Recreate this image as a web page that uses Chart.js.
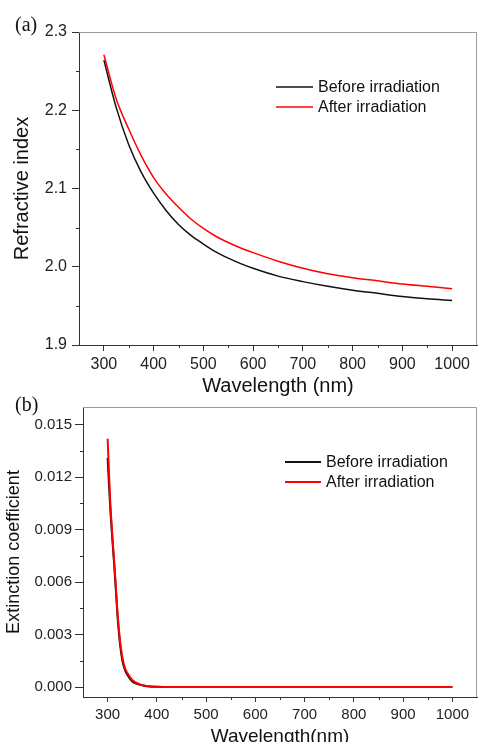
<!DOCTYPE html>
<html>
<head>
<meta charset="utf-8">
<script src="https://cdn.jsdelivr.net/npm/chart.js@4.4.1/dist/chart.umd.min.js"></script>
<style>
html,body{margin:0;padding:0;background:#fff;overflow:hidden;width:478px;height:742px;}
.panel{position:absolute;left:0;}
#chartA{top:0;}
#chartB{top:395px;}
</style>
</head>
<body>
<canvas class="panel" id="chartA" width="478" height="400"></canvas>
<canvas class="panel" id="chartB" width="478" height="360"></canvas>
<script>
// refractive index n vs wavelength
const wlA=[300,325,350,375,400,425,450,475,500,525,550,575,600,650,700,750,800,850,900,950,1000];
const nBefore=[2.264,2.203,2.156,2.121,2.094,2.072,2.054,2.040,2.029,2.019,2.011,2.004,1.998,1.988,1.981,1.975,1.970,1.966,1.962,1.959,1.957];
const nAfter=[2.271,2.214,2.176,2.142,2.114,2.093,2.076,2.061,2.049,2.039,2.031,2.024,2.018,2.007,1.998,1.991,1.986,1.982,1.978,1.975,1.972];

// extinction coefficient k vs wavelength
const wlB=[300,305,310,315,320,325,330,335,340,350,360,370,380,390,400,420,450,500,600,700,800,900,1000];
const kBefore=[0.0131,0.0104,0.0083,0.0063,0.0041,0.0025,0.0015,0.0010,0.0007,0.00032,0.00018,0.0001,0.00005,0.00002,0.00001,0,0,0,0,0,0,0,0];
const kAfter=[0.0142,0.0108,0.0085,0.0065,0.0043,0.0027,0.0017,0.0011,0.0008,0.0004,0.00022,0.00011,0.00006,0.00003,0.00001,0,0,0,0,0,0,0,0];

const xTicks=[300,400,500,600,700,800,900,1000];
const yTicksA=[1.9,2.0,2.1,2.2,2.3];
const yTicksB=[0,0.003,0.006,0.009,0.012,0.015];
const seriesNames=["Before irradiation","After irradiation"];

const fam="'Liberation Sans', Arial, sans-serif";
const axisColor="#333";

const pts=(xs,ys)=>xs.map((x,i)=>({x:x,y:ys[i]}));
const mids=t=>t.slice(1).map((v,i)=>(v+t[i])/2);

// frame, minor ticks, legend and panel tag
const decor={
id:"decor",
afterDraw(chart,args,o){
const ctx=chart.ctx,a=chart.chartArea;
const xs=chart.scales.x,ys=chart.scales.y;
ctx.save();
ctx.strokeStyle="#9a9a9a";
ctx.lineWidth=1;
ctx.beginPath();
ctx.moveTo(a.left,a.top+0.5);
ctx.lineTo(a.right-0.5,a.top+0.5);
ctx.lineTo(a.right-0.5,a.bottom);
ctx.stroke();

ctx.strokeStyle=axisColor;
ctx.beginPath();
mids(o.xMajor).forEach(v=>{
const px=Math.round(xs.getPixelForValue(v))+0.5;
ctx.moveTo(px,a.bottom);
ctx.lineTo(px,a.bottom+o.minorLen);
});
mids(o.yMajor).forEach(v=>{
const py=Math.round(ys.getPixelForValue(v))+0.5;
ctx.moveTo(a.left,py);
ctx.lineTo(a.left-o.minorLen,py);
});
ctx.stroke();

const lg=o.legend;
ctx.font=lg.font;
ctx.textBaseline="middle";
chart.data.datasets.forEach((ds,i)=>{
const y=lg.y+i*lg.gap;
ctx.strokeStyle=ds.borderColor;
ctx.lineWidth=lg.lineWidth;
ctx.beginPath();
ctx.moveTo(lg.x,y);
ctx.lineTo(lg.x+lg.len,y);
ctx.stroke();
ctx.fillStyle="#111";
ctx.fillText(ds.label,lg.x+lg.len+lg.pad,y+1);
});

ctx.font="20px 'Liberation Serif', 'Times New Roman', serif";
ctx.fillStyle="#111";
ctx.fillText(o.tag,o.tagX,o.tagY);
ctx.restore();
}
};

function makeChart(id,c){
return new Chart(document.getElementById(id),{
type:"line",
data:{datasets:[
{label:seriesNames[0],data:pts(c.wl,c.before),borderColor:"#111111",borderWidth:c.bw,order:1},
{label:seriesNames[1],data:pts(c.wl,c.after),borderColor:"#ff0000",borderWidth:c.bw,order:0}
]},
options:{
responsive:false,
animation:false,
layout:{padding:{top:c.top,right:1,left:0,bottom:0}},
elements:{point:{radius:0},line:{cubicInterpolationMode:"monotone",fill:false}},
plugins:{
legend:{display:false},
tooltip:{enabled:false},
decor:{xMajor:xTicks,yMajor:c.yTicks,minorLen:3,legend:c.legend,tag:c.tag,tagX:c.tagX,tagY:c.tagY}
},
scales:{
x:{
type:"linear",min:250,max:1050,
afterBuildTicks:s=>{s.ticks=xTicks.map(v=>({value:v}));},
afterFit:s=>{s.height=c.xh;},
grid:{drawOnChartArea:false,tickLength:c.xTickLen,tickColor:axisColor},
border:{color:axisColor,width:1},
ticks:{color:"#222",font:{family:fam,size:c.tickSize},padding:c.xPad,maxRotation:0,autoSkip:false,callback:v=>String(v)},
title:{display:true,text:c.xTitle,color:"#111",font:{family:fam,size:c.xTitleSize},padding:{top:0,bottom:c.xTitlePad}}
},
y:{
type:"linear",min:c.yMin,max:c.yMax,
afterBuildTicks:s=>{s.ticks=c.yTicks.map(v=>({value:v}));},
afterFit:s=>{s.width=c.yw;},
grid:{drawOnChartArea:false,tickLength:c.yTickLen,tickColor:axisColor},
border:{color:axisColor,width:1},
ticks:{color:"#222",font:{family:fam,size:c.tickSize},padding:c.yPad,callback:v=>v.toFixed(c.dec)},
title:{display:true,text:c.yTitle,color:"#111",font:{family:fam,size:c.yTitleSize},padding:{top:c.yTitlePad,bottom:0}}
}
}
},
plugins:[decor]
});
}

makeChart("chartA",{
wl:wlA,before:nBefore,after:nAfter,bw:1.5,
top:32,xh:55,yw:79,
yMin:1.9,yMax:2.3,yTicks:yTicksA,dec:1,
tickSize:16,xTickLen:6,yTickLen:7,xPad:4,yPad:5,
xTitle:"Wavelength (nm)",xTitleSize:20,xTitlePad:2,
yTitle:"Refractive index",yTitleSize:20,yTitlePad:10,
legend:{x:276,y:87,gap:20,len:37,pad:5,lineWidth:1.5,font:"16px "+fam},
tag:"(a)",tagX:15,tagY:26
});

makeChart("chartB",{
wl:wlB,before:kBefore,after:kAfter,bw:2,
top:10,xh:58,yw:83,
yMin:-0.00057,yMax:0.01602,yTicks:yTicksB,dec:3,
tickSize:15,xTickLen:5,yTickLen:8,xPad:4,yPad:3,
xTitle:"Wavelength(nm)",xTitleSize:19,xTitlePad:7,
yTitle:"Extinction coefficient",yTitleSize:18,yTitlePad:3,
legend:{x:285,y:67,gap:20,len:36,pad:5,lineWidth:2,font:"16px "+fam},
tag:"(b)",tagX:15,tagY:11
});
</script>
</body>
</html>
